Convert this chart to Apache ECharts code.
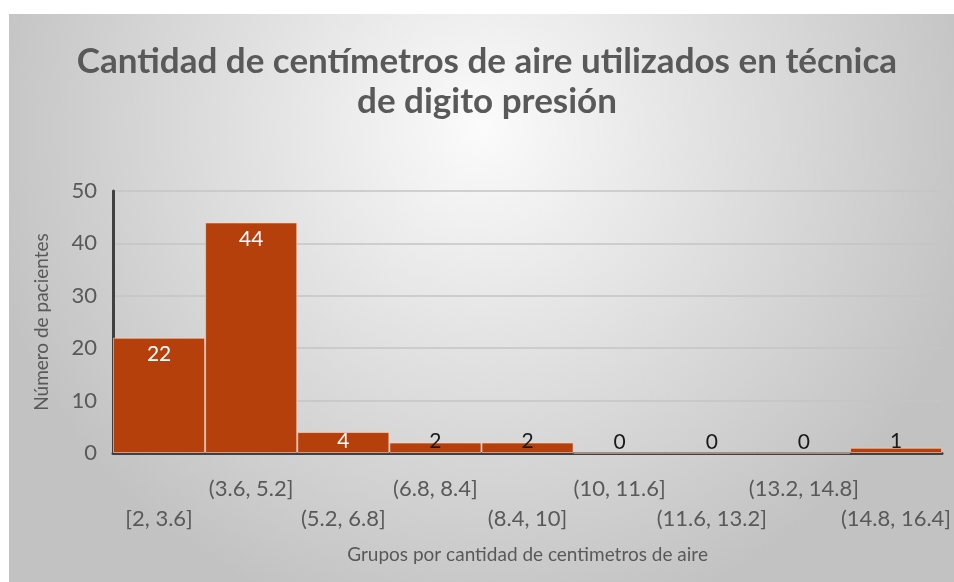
<!DOCTYPE html>
<html>
<head>
<meta charset="utf-8">
<script src="https://cdn.jsdelivr.net/npm/echarts@6/dist/echarts.min.js"></script>
<style>
  html, body { margin: 0; padding: 0; background: #fff; }
  #chart { width: 954px; height: 582px; }
</style>
</head>
<body>
<div id="chart"></div>
<script>
const categories = ["[2, 3.6]", "(3.6, 5.2]", "(5.2, 6.8]", "(6.8, 8.4]", "(8.4, 10]",
  "(10, 11.6]", "(11.6, 13.2]", "(13.2, 14.8]", "(14.8, 16.4]"];
const pacientes = [22, 44, 4, 2, 2, 0, 0, 0, 1];
const yTicks = [0, 10, 20, 30, 40, 50];

const textColor = "#595959";
const fontFamily = "Lato, 'Open Sans', sans-serif";

const chart = echarts.init(document.getElementById("chart"));

const barData = pacientes.map(v => {
  // labels sit inside the top for tall bars, just above the axis for short ones
  if (v > 4) {
    return { value: v, label: { position: "insideTop", distance: 6, color: "#ffffff" } };
  }
  return { value: v, label: { position: "insideBottom", distance: 1, color: v === 4 ? "#ffffff" : "#1a1a1a" } };
});

chart.setOption({
  backgroundColor: "#ffffff",
  animation: false,
  graphic: [{
    type: "rect",
    z: -10,
    shape: { x: 9, y: 14, width: 945, height: 568 },
    style: {
      fill: {
        type: "radial", x: 0.5, y: 0.2, r: 0.9,
        colorStops: [
          { offset: 0, color: "#fbfbfb" },
          { offset: 1, color: "#c2c2c2" }
        ]
      }
    }
  }],
  title: {
    text: "Cantidad de centímetros de aire utilizados en técnica\nde digito presión",
    left: 482,
    top: 37,
    textAlign: "center",
    textStyle: {
      color: textColor,
      fontFamily: fontFamily,
      fontWeight: "bold",
      fontSize: 35,
      lineHeight: 40
    }
  },
  grid: { left: 113, right: 10, top: 191, bottom: 129 },
  xAxis: {
    type: "category",
    data: categories,
    name: "Grupos por cantidad de centimetros de aire",
    nameLocation: "middle",
    nameGap: 92,
    nameTextStyle: { color: textColor, fontSize: 19, fontFamily: fontFamily },
    axisLine: { lineStyle: { color: "#404040", width: 3 } },
    axisTick: { show: false },
    axisLabel: {
      interval: 0,
      color: textColor,
      fontSize: 22,
      fontFamily: fontFamily,
      lineHeight: 30,
      margin: 21,
      formatter: (val, idx) => (idx % 2 === 0 ? "\n" + val : val)
    }
  },
  yAxis: {
    type: "value",
    min: yTicks[0],
    max: yTicks[yTicks.length - 1],
    interval: 10,
    name: "Número de pacientes",
    nameLocation: "middle",
    nameGap: 62,
    nameTextStyle: { color: textColor, fontSize: 19, fontFamily: fontFamily },
    axisLine: { show: true, lineStyle: { color: "#404040", width: 3 } },
    axisTick: { show: false },
    axisLabel: { color: textColor, fontSize: 22, fontFamily: fontFamily, margin: 16 },
    splitLine: { lineStyle: { color: "#c4c4c4", width: 1.5 } }
  },
  series: [{
    type: "bar",
    data: barData,
    barCategoryGap: 0,
    itemStyle: {
      color: "#b5400b",
      borderColor: "rgba(255,220,200,0.6)",
      borderWidth: 1
    },
    label: {
      show: true,
      fontSize: 21,
      fontFamily: fontFamily
    }
  }]
});
</script>
</body>
</html>
